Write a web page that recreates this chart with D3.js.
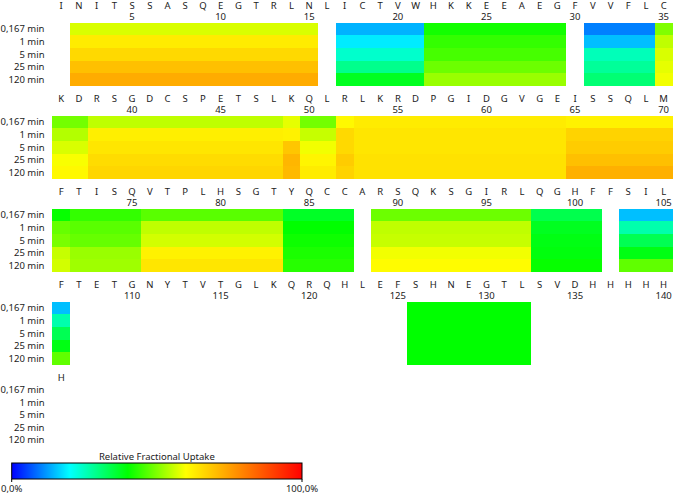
<!DOCTYPE html>
<html><head><meta charset="utf-8">
<script src="https://cdn.jsdelivr.net/npm/d3@7"></script>
<style>
html,body{margin:0;padding:0;background:#fff;}
text{font-family:"Noto Sans","Open Sans",sans-serif;fill:#222;}
</style></head>
<body>
<svg id="chart" width="675" height="494"></svg>
<script>
// ---- data ----
const sequenceRows = [
  "INITSSASQEGTRLNLICTVWHKKEEAEGFVVFLC",
  "KDRSGDCSPETSLKQLRLKRDPGIDGVGEISSQLM",
  "FTISQVTPLHSGTYQCCARSQKSGIRLQGHFFSIL",
  "FTETGNYTVTGLKQRQHLEFSHNEGTLSVDHHHHH",
  "H"
];
const timepoints = ["0,167 min", "1 min", "5 min", "25 min", "120 min"];
const segStart = [2, 17, 22, 31, 35, 36, 38, 49, 50, 52, 53, 65, 71, 72, 76, 84, 89, 98, 103, 126];
const segEnd   = [15, 21, 29, 34, 35, 37, 48, 49, 51, 52, 64, 70, 71, 75, 83, 87, 97, 101, 106, 132];
// relative fractional uptake (%) per segment, one array per timepoint
const uptake_0167 = [57, 14, 41.5, 10, 50, 49, 55, 58, 49, 61, 63, 62, 40.5, 44, 47, 37, 48.5, 34, 15, 40];
const uptake_1    = [63, 18.5, 44, 15, 55, 54, 62.5, 62, 55.5, 66, 64, 67, 48, 47, 55, 40, 55, 37.5, 26.5, 40];
const uptake_5    = [66, 24, 45.5, 25.5, 57, 57, 64, 69, 59, 66, 64, 68, 49.5, 48, 56.5, 41, 55.5, 38.5, 33.5, 40];
const uptake_25   = [70, 29, 48.5, 28, 58, 59.5, 65.5, 71.5, 61.5, 68, 64.5, 70, 55.5, 52, 62, 42, 59, 39, 38.5, 40];
const uptake_120  = [73, 37.5, 52, 31, 59, 61, 66.5, 71, 63, 67, 64.5, 72.5, 56.5, 52.5, 64, 43, 60.5, 40.5, 47.5, 40];
const uptakeByTime = [uptake_0167, uptake_1, uptake_5, uptake_25, uptake_120];
const legendTitle = "Relative Fractional Uptake";
const legendTicks = ["0,0%", "100,0%"];

// ---- layout ----
const perRow = 35;
const svg = d3.select("#chart");
const x = d3.scaleBand().domain(d3.range(perRow)).range([52.3, 672.5]).paddingInner(0).paddingOuter(0);
const rowSpacing = 93;
const cellsH = 63.3;
const yT = d3.scaleBand().domain(timepoints).range([0, cellsH]);

const colorStops = [0, 20, 40, 60, 80, 100];
const colorVals = ["#0000ff", "#00ffff", "#00ff00", "#ffff00", "#ff8000", "#ff0000"];
const color = d3.scaleLinear().domain(colorStops).range(colorVals).interpolate(d3.interpolateRgb).clamp(true);

sequenceRows.forEach((seq, r) => {
  const firstRes = r * perRow + 1;
  const residues = seq.split("");
  const hasTicks = residues.some((_, i) => (firstRes + i) % 5 === 0);
  const top = r * rowSpacing;
  const g = svg.append("g").attr("transform", `translate(0,${top})`);
  // residue letters
  g.selectAll("text.res").data(residues).join("text")
    .attr("class", "res")
    .attr("x", (d, i) => x(i) + x.bandwidth() / 2)
    .attr("y", 5.2)
    .attr("dy", "0.35em")
    .attr("text-anchor", "middle")
    .style("font-size", "9.5px")
    .text(d => d);
  // tick numbers
  const ticks = residues.map((_, i) => firstRes + i).filter(n => n % 5 === 0);
  g.selectAll("text.tick").data(ticks).join("text")
    .attr("class", "tick")
    .attr("x", n => x(n - firstRes) + x.bandwidth() / 2)
    .attr("y", 17)
    .attr("dy", "0.35em")
    .attr("text-anchor", "middle")
    .style("font-size", "9.5px")
    .text(n => n);
  const cellTop = hasTicks ? 22.7 : 10.7 + 0.5;
  const cg = g.append("g").attr("transform", `translate(0,${cellTop})`);
  // timepoint labels
  cg.selectAll("text.tp").data(timepoints).join("text")
    .attr("class", "tp")
    .attr("x", 44.5)
    .attr("y", d => yT(d) + yT.bandwidth() / 2)
    .attr("dy", "0.35em")
    .attr("text-anchor", "end")
    .style("font-size", "9.5px")
    .text(d => d);
  // cells: segments clipped to this row
  const lastRes = firstRes + residues.length - 1;
  const pieces = [];
  segStart.forEach((s, k) => {
    const a = Math.max(s, firstRes), b = Math.min(segEnd[k], lastRes);
    if (a <= b) {
      timepoints.forEach((tp, ti) => pieces.push({a, b, tp, v: uptakeByTime[ti][k]}));
    }
  });
  cg.selectAll("rect.cell").data(pieces).join("rect")
    .attr("class", "cell")
    .attr("x", d => x(d.a - firstRes))
    .attr("width", d => x(d.b - firstRes) + x.bandwidth() - x(d.a - firstRes))
    .attr("y", d => yT(d.tp))
    .attr("height", yT.bandwidth())
    .attr("fill", d => color(d.v))
    .attr("shape-rendering", "crispEdges");
});

// ---- legend ----
const lx = d3.scaleLinear().domain([0, 100]).range([11.7, 302]);
const defs = svg.append("defs");
const grad = defs.append("linearGradient").attr("id", "lg").attr("x1", "0%").attr("x2", "100%");
colorStops.forEach((s, i) => grad.append("stop").attr("offset", s + "%").attr("stop-color", colorVals[i]));
svg.append("text").attr("x", (lx(0) + lx(100)) / 2).attr("y", 456.5).attr("dy", "0.35em")
  .attr("text-anchor", "middle").style("font-size", "9.5px").text(legendTitle);
svg.append("rect").attr("x", lx(0)).attr("y", 463).attr("width", lx(100) - lx(0)).attr("height", 16)
  .attr("fill", "url(#lg)").attr("stroke", "#000").attr("stroke-width", 1);
[0, 100].forEach((v, i) => {
  svg.append("line").attr("x1", lx(v)).attr("x2", lx(v)).attr("y1", 479).attr("y2", 482).attr("stroke", "#000");
  svg.append("text").attr("x", lx(v)).attr("y", 488.5).attr("dy", "0.35em")
    .attr("text-anchor", "middle").style("font-size", "9.5px").text(legendTicks[i]);
});
</script>
</body></html>
